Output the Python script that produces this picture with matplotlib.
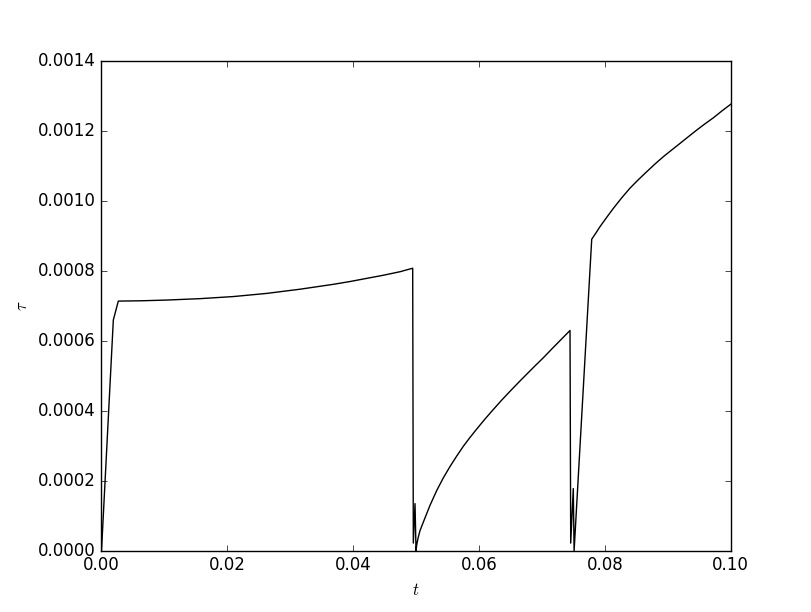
import matplotlib
matplotlib.use("Agg")
import matplotlib.pyplot as plt

plt.style.use("classic")

t = [0.0, 0.00188, 0.00267, 0.00650, 0.01036, 0.01565, 0.02095, 0.02625,
     0.03154, 0.03420, 0.03684, 0.03950, 0.04214, 0.04480, 0.04743, 0.04945,
     0.04955, 0.04982, 0.04998,
     0.05010, 0.05030, 0.05060, 0.05114, 0.05220, 0.05326, 0.05430, 0.05538,
     0.05645, 0.05750, 0.05855, 0.05962, 0.06095, 0.06226, 0.06360, 0.06491,
     0.06625, 0.06757, 0.06890, 0.07021, 0.07155, 0.07286, 0.07445,
     0.07456, 0.07497, 0.07510,
     0.07790, 0.07850, 0.07922, 0.08030, 0.08133, 0.08265, 0.08398, 0.08530,
     0.08664, 0.08795, 0.08928, 0.09060, 0.09193, 0.09325, 0.09458, 0.09590,
     0.09722, 0.09860, 0.10000]
tau = [0.0, 0.00066, 0.000714, 0.000715, 0.000717, 0.000721, 0.000727, 0.000736,
       0.000748, 0.000755, 0.000762, 0.000770, 0.000779, 0.000788, 0.000798, 0.000808,
       0.000022, 0.000135, 0.0,
       0.000018, 0.000036, 0.000057, 0.000082, 0.000130, 0.000172, 0.000208, 0.000241,
       0.000271, 0.000299, 0.000324, 0.000348, 0.000377, 0.000404, 0.000431, 0.000456,
       0.000481, 0.000505, 0.000529, 0.000552, 0.000577, 0.000601, 0.000630,
       0.000022, 0.000178, 0.0,
       0.000891, 0.000907, 0.000927, 0.000954, 0.000979, 0.001009, 0.001037, 0.001061,
       0.001084, 0.001106, 0.001127, 0.001146, 0.001165, 0.001184, 0.001203, 0.001221,
       0.001238, 0.001258, 0.001277]

fig = plt.figure(figsize=(8.12, 6.12), dpi=100)
fig.patch.set_facecolor("white")
ax = fig.add_subplot(111)
ax.plot(t, tau, color="k", linewidth=1.0)
ax.set_xlim(0, 0.1)
ax.set_ylim(0, 0.0014)
ax.set_xticks([0.0, 0.02, 0.04, 0.06, 0.08, 0.10])
ax.set_yticks([0.0, 0.0002, 0.0004, 0.0006, 0.0008, 0.0010, 0.0012, 0.0014])
ax.set_xlabel(r"$t$")
ax.set_ylabel(r"$\tau$")
fig.savefig("out.png", dpi=100, facecolor="white")
